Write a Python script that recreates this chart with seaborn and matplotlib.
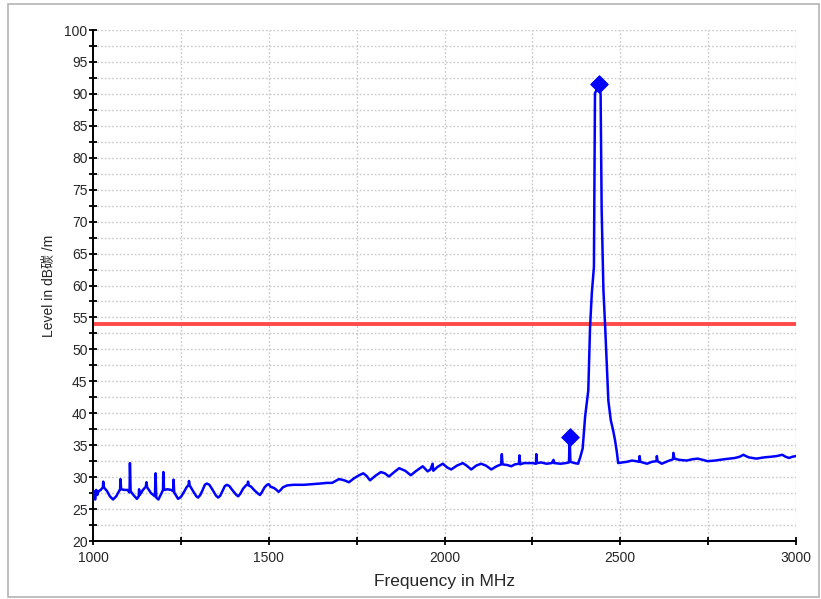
import numpy as np
import pandas as pd
import seaborn as sns
import matplotlib.pyplot as plt
from matplotlib.patches import Rectangle
from matplotlib.ticker import MultipleLocator

# measured trace (MHz, dBuV/m)
freq = [1000, 1003, 1006, 1009, 1012, 1016, 1022, 1028, 1029, 1031, 1040, 1048, 1057, 1066,
        1074, 1077, 1078, 1080, 1090, 1098, 1104, 1105, 1107, 1115, 1125, 1130, 1131, 1133,
        1142, 1150, 1152, 1154, 1165, 1176, 1178, 1180, 1186, 1195, 1199, 1200, 1202, 1212,
        1222, 1228, 1229, 1231, 1242, 1250, 1258, 1266, 1272, 1273, 1275, 1287, 1294, 1299,
        1305, 1312, 1318, 1324, 1331, 1338, 1350, 1356, 1362, 1368, 1375, 1381, 1388, 1396,
        1408, 1413, 1419, 1427, 1435, 1440, 1441, 1443, 1450, 1458, 1470, 1475, 1481, 1488,
        1495, 1500, 1505, 1515, 1522, 1528, 1534, 1540, 1552, 1570, 1585, 1600, 1625, 1647,
        1665, 1680, 1690, 1700, 1715, 1728, 1742, 1757, 1769, 1778, 1788, 1803, 1819, 1830,
        1842, 1857, 1871, 1888, 1904, 1920, 1938, 1952, 1960, 1966, 1968, 1980, 1995, 2008,
        2019, 2035, 2052, 2063, 2076, 2090, 2104, 2118, 2133, 2148, 2161, 2163, 2165, 2178,
        2190, 2200, 2212, 2213, 2215, 2226, 2238, 2250, 2260, 2261, 2263, 2275, 2290, 2305,
        2310, 2312, 2330, 2345, 2354, 2356, 2358, 2370, 2380, 2386, 2393, 2400, 2409, 2414,
        2419, 2425, 2428, 2440, 2444, 2447, 2452, 2457, 2461, 2466, 2473, 2479, 2485, 2490,
        2494, 2505, 2519, 2533, 2545, 2554, 2555, 2557, 2576, 2590, 2603, 2604, 2606, 2618,
        2635, 2650, 2651, 2654, 2668, 2689, 2705, 2720, 2735, 2748, 2770, 2795, 2810, 2826,
        2840, 2850, 2865, 2887, 2910, 2930, 2945, 2961, 2970, 2980, 2990, 3000]
level = [26.8, 27.8, 26.5, 28.0, 27.2, 27.8, 28.0, 28.4, 29.3, 28.4, 27.8, 27.0, 26.5, 27.0,
         27.8, 28.1, 29.7, 28.1, 28.0, 28.0, 27.6, 32.2, 27.8, 27.2, 26.6, 27.0, 28.1, 27.2,
         28.0, 28.5, 29.2, 28.4, 27.5, 27.0, 30.6, 26.8, 26.5, 27.5, 28.0, 30.8, 28.0, 28.1,
         28.0, 27.8, 29.6, 27.6, 26.6, 26.9, 27.6, 28.4, 28.8, 29.4, 28.7, 27.6, 27.0, 26.8,
         27.2, 28.0, 28.8, 29.0, 28.8, 28.2, 27.1, 26.8, 27.1, 27.8, 28.6, 28.8, 28.6, 28.0,
         27.2, 27.0, 27.4, 28.2, 28.7, 28.9, 29.3, 28.7, 28.5, 28.0, 27.4, 27.2, 27.7, 28.4,
         28.8, 28.9, 28.5, 28.3, 28.0, 27.7, 28.0, 28.4, 28.7, 28.8, 28.8, 28.8, 28.9, 29.0,
         29.1, 29.1, 29.4, 29.7, 29.5, 29.2, 29.8, 30.3, 30.6, 30.2, 29.5, 30.2, 30.8, 30.6,
         30.1, 30.8, 31.4, 31.0, 30.3, 31.0, 31.7, 30.9, 31.2, 32.1, 31.0, 31.6, 32.1, 31.5,
         31.2, 31.8, 32.2, 31.8, 31.2, 31.8, 32.1, 31.8, 31.2, 31.7, 32.0, 33.6, 32.0, 31.9,
         31.7, 32.0, 32.1, 33.4, 32.0, 32.2, 32.2, 32.2, 32.1, 33.6, 32.2, 32.3, 32.1, 32.2,
         32.7, 32.2, 32.1, 32.2, 32.3, 36.3, 32.4, 32.2, 32.1, 33.1, 34.5, 39.5, 43.6, 53.5,
         58.8, 62.9, 90.1, 91.5, 90.0, 71.8, 59.3, 53.5, 48.3, 42.0, 38.9, 37.5, 35.8, 34.0,
         32.2, 32.3, 32.4, 32.6, 32.5, 32.4, 33.3, 32.4, 32.1, 32.4, 32.5, 33.3, 32.5, 32.1,
         32.5, 32.8, 33.8, 32.9, 32.7, 32.6, 32.8, 32.9, 32.7, 32.5, 32.6, 32.8, 32.9, 33.0,
         33.2, 33.5, 33.1, 32.9, 33.1, 33.2, 33.3, 33.5, 33.2, 33.0, 33.2, 33.3]

# peak markers
marker_freq = [2356, 2440]
marker_level = [36.3, 91.5]

limit_level = 54

sns.set_style("white")
plt.rcParams['font.family'] = ['Liberation Sans', 'Noto Sans CJK SC', 'DejaVu Sans']

trace_df = pd.DataFrame({'Frequency': freq, 'Level': level})
marker_df = pd.DataFrame({'Frequency': marker_freq, 'Level': marker_level})

fig = plt.figure(figsize=(8.21, 5.99), dpi=100)
ax = fig.add_axes([0.1133, 0.0968, 0.8563, 0.8531])

ax.axhline(limit_level, color='#ff4a4a', lw=2.8, zorder=2)
sns.lineplot(data=trace_df, x='Frequency', y='Level', color='#0000ff', lw=1.8,
             estimator=None, ax=ax, zorder=3)
sns.scatterplot(data=marker_df, x='Frequency', y='Level', marker='D', s=80,
                color='#0000ff', edgecolor='#0000ff', ax=ax, zorder=4)

ax.set_xlim(1000, 3000)
ax.set_ylim(20, 100)
ax.xaxis.set_major_locator(MultipleLocator(500))
ax.xaxis.set_minor_locator(MultipleLocator(250))
ax.yaxis.set_major_locator(MultipleLocator(5))
ax.yaxis.set_minor_locator(MultipleLocator(2.5))

ax.grid(True, which='both', color='#c8c8c8', ls=(0, (1.2, 1.5)), lw=1)
ax.set_axisbelow(True)

for side in ['top', 'right']:
    ax.spines[side].set_visible(False)
for side in ['left', 'bottom']:
    ax.spines[side].set_color('black')
    ax.spines[side].set_linewidth(1.4)

ax.tick_params(which='both', direction='inout', length=6, width=1.3, color='black',
               left=True, bottom=True)
ax.tick_params(axis='y', labelsize=10, pad=1)
ax.tick_params(axis='x', labelsize=10, pad=4)

ax.set_xlabel('Frequency in MHz', fontsize=12.5, labelpad=7)
ax.set_ylabel('Level in dB碳 /m', fontsize=10, labelpad=7)

fig.patches.append(Rectangle((0.0097, 0.0033), 0.988, 0.99, transform=fig.transFigure,
                             fill=False, edgecolor='#b4b4b4', lw=1.2))

fig.savefig('out.png', dpi=100)
